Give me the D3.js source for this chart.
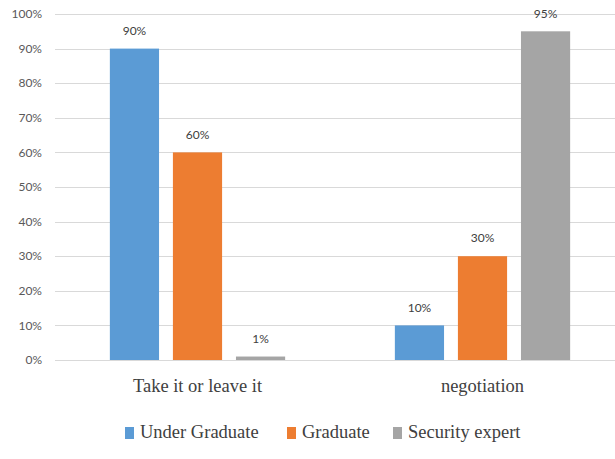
<!DOCTYPE html>
<html>
<head>
<meta charset="utf-8">
<script src="https://cdn.jsdelivr.net/npm/d3@7"></script>
<style>
  body { margin: 0; background: #fff; }
  svg { display: block; overflow: hidden; }
</style>
</head>
<body>
<div id="main"></div>
<script>
const ctx = {
    w: 615,
    h: 459,
};

// data
const categories = ["Take it or leave it", "negotiation"];
const seriesNames = ["Under Graduate", "Graduate", "Security expert"];
const underGraduate = [90, 10];
const graduate = [60, 30];
const securityExpert = [1, 95];
const yTicks = [0, 10, 20, 30, 40, 50, 60, 70, 80, 90, 100];
const colors = ["#5B9BD5", "#ED7D31", "#A5A5A5"];

function createViz() {
    const svgEl = d3.select("#main").append("svg")
        .attr("width", ctx.w)
        .attr("height", ctx.h);

    const values = [underGraduate, graduate, securityExpert];
    const rows = [];
    categories.forEach((c, i) => {
        seriesNames.forEach((s, j) => {
            rows.push({cat: c, series: s, value: values[j][i], color: colors[j]});
        });
    });

    const x = d3.scaleBand()
        .domain(categories)
        .range([55, 625])
        .paddingInner(0)
        .paddingOuter(0);

    const xs = d3.scaleBand()
        .domain(seriesNames)
        .range([0, x.bandwidth()])
        .paddingInner(0.22)
        .paddingOuter(0.87);

    const y = d3.scaleLinear()
        .domain([0, 100])
        .range([360, 14]);

    // grid
    svgEl.append("g")
        .selectAll("line")
        .data(yTicks)
        .enter().append("line")
        .attr("x1", 55)
        .attr("x2", ctx.w)
        .attr("y1", d => Math.round(y(d)) + 0.5)
        .attr("y2", d => Math.round(y(d)) + 0.5)
        .style("stroke", "#d9d9d9")
        .style("stroke-width", 1);

    // y labels
    svgEl.append("g")
        .selectAll("text")
        .data(yTicks)
        .enter().append("text")
        .attr("x", 42)
        .attr("y", d => y(d))
        .attr("dy", "0.35em")
        .attr("text-anchor", "end")
        .style("font-family", "Lato, sans-serif")
        .style("font-size", "12px")
        .style("fill", "#595959")
        .text(d => d + "%");

    // bars
    svgEl.append("g")
        .selectAll("rect")
        .data(rows)
        .enter().append("rect")
        .attr("x", d => x(d.cat) + xs(d.series))
        .attr("width", xs.bandwidth())
        .attr("y", d => y(d.value))
        .attr("height", d => y(0) - y(d.value))
        .style("fill", d => d.color);

    // value labels
    svgEl.append("g")
        .selectAll("text")
        .data(rows)
        .enter().append("text")
        .attr("x", d => x(d.cat) + xs(d.series) + xs.bandwidth() / 2)
        .attr("y", d => y(d.value) - 18)
        .attr("dy", "0.35em")
        .attr("text-anchor", "middle")
        .style("font-family", "Lato, sans-serif")
        .style("font-size", "12px")
        .style("fill", "#404040")
        .text(d => d.value + "%");

    // category labels
    svgEl.append("g")
        .selectAll("text")
        .data(categories)
        .enter().append("text")
        .attr("x", d => x(d) + x.bandwidth() / 2)
        .attr("y", 386)
        .attr("dy", "0.35em")
        .attr("text-anchor", "middle")
        .style("font-family", "'Liberation Serif', serif")
        .style("font-size", "18.5px")
        .style("fill", "#404040")
        .text(d => d);

    // legend
    const legendX = [125, 287, 393];
    const legend = svgEl.append("g")
        .selectAll("g")
        .data(seriesNames)
        .enter().append("g")
        .attr("transform", (d, i) => `translate(${legendX[i]},432)`);

    legend.append("rect")
        .attr("x", 0)
        .attr("y", -5)
        .attr("width", 9)
        .attr("height", 12)
        .style("fill", (d, i) => colors[i]);

    legend.append("text")
        .attr("x", 15)
        .attr("y", 0)
        .attr("dy", "0.35em")
        .style("font-family", "'Liberation Serif', serif")
        .style("font-size", "18.5px")
        .style("fill", "#404040")
        .text(d => d);
}

createViz();
</script>
</body>
</html>
